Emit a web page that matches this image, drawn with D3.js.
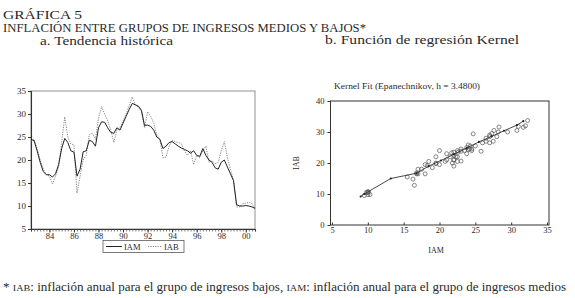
<!DOCTYPE html>
<html>
<head>
<meta charset="utf-8">
<script src="https://cdn.jsdelivr.net/npm/d3@7"></script>
<style>
  body { margin: 0; background: #fff; }
  svg { display: block; }
  text { font-family: "Liberation Serif", "DejaVu Serif", serif; fill: #2a2a2a; }
</style>
</head>
<body>
<svg id="chart" width="575" height="298"></svg>
<script>
// quarterly, 1982 Q3 .. 2000 Q4
const quarters = d3.range(74).map(i => 82.5 + i * 0.25);

const iam = [24.5, 24.2, 22.0, 19.5, 17.5, 16.8, 16.8, 16.3, 17.0, 19.0,
             22.5, 24.7, 23.8, 22.0, 21.7, 16.5, 18.0, 21.8, 22.0, 24.3,
             24.0, 23.0, 27.0, 28.3, 28.2, 27.0, 26.0, 25.8, 27.0, 26.5,
             28.0, 29.5, 31.0, 32.3, 32.0, 31.7, 30.8, 27.5, 27.6, 27.3,
             26.5, 25.0, 24.5, 22.5, 23.0, 23.8, 24.0, 23.5, 23.0, 22.6,
             22.3, 22.0, 21.5, 22.0, 21.0, 20.8, 22.5, 21.0, 20.0, 19.5,
             18.3, 18.0, 19.5, 20.0, 18.5, 17.0, 15.5, 10.3, 10.0, 10.0,
             10.1, 10.0, 9.8, 9.5];

const iab = [24.0, 24.5, 22.5, 20.0, 18.0, 16.8, 16.5, 14.8, 16.5, 18.5,
             24.0, 29.4, 25.0, 23.5, 23.3, 12.8, 16.5, 20.0, 21.0, 25.5,
             25.8, 24.5, 29.0, 31.6, 30.0, 28.5, 26.5, 23.8, 26.5, 27.0,
             28.5, 30.0, 31.8, 33.7, 32.0, 31.5, 30.5, 27.0, 30.5, 29.5,
             28.0, 25.5, 24.5, 20.5, 20.6, 23.0, 24.3, 24.0, 23.8, 23.5,
             22.0, 21.0, 22.0, 19.0, 21.0, 20.5, 22.0, 23.0, 19.5, 19.8,
             19.2, 19.5, 22.0, 24.0, 20.5, 18.0, 15.5, 9.8, 9.8, 10.5,
             10.6, 10.8, 10.5, 9.5];

// kernel fit (Epanechnikov, h = 3.48)
const kernelX = [9.0, 9.5, 13.2, 16.8, 18.5, 20.2, 22.0, 23.8, 25.5, 27.3, 29.0, 30.8, 31.7];
const kernelY = [9.2, 10.0, 15.0, 16.7, 19.0, 20.8, 22.8, 24.8, 26.8, 28.6, 30.4, 32.2, 33.5];

const yearTicks = [84, 86, 88, 90, 92, 94, 96, 98, 100];
const leftYTicks = [5, 10, 15, 20, 25, 30, 35];
const rightXTicks = [5, 10, 15, 20, 25, 30, 35];
const rightYTicks = [0, 10, 20, 30, 40];

const svg = d3.select("#chart");

// titles
svg.append("text").attr("x", 3).attr("y", 18.5).style("font-size", "11.5px")
   .attr("textLength", 79).attr("lengthAdjust", "spacingAndGlyphs").text("GRÁFICA 5");
svg.append("text").attr("x", 3).attr("y", 32).style("font-size", "12.2px")
   .attr("textLength", 363).attr("lengthAdjust", "spacingAndGlyphs")
   .text("INFLACIÓN ENTRE GRUPOS DE INGRESOS MEDIOS Y BAJOS*");
svg.append("text").attr("x", 40).attr("y", 44.5).style("font-size", "12px")
   .attr("textLength", 133).attr("lengthAdjust", "spacingAndGlyphs").text("a. Tendencia histórica");
svg.append("text").attr("x", 325).attr("y", 44).style("font-size", "12px")
   .attr("textLength", 194).attr("lengthAdjust", "spacingAndGlyphs").text("b. Función de regresión Kernel");

// ---- panel a: time series ----
const x1 = d3.scaleLinear().domain([82.5, 100.75]).range([31, 255]);
const y1 = d3.scaleLinear().domain([5, 35]).range([229, 91]);

const gA = svg.append("g");

gA.append("rect")
  .attr("x", x1.range()[0]).attr("y", y1(35))
  .attr("width", x1.range()[1] - x1.range()[0]).attr("height", y1(5) - y1(35))
  .attr("fill", "none").attr("stroke", "#777").attr("stroke-width", 0.8);

gA.append("g")
  .attr("transform", `translate(${x1.range()[0]},0)`)
  .call(d3.axisLeft(y1).tickValues(leftYTicks).tickSize(3).tickPadding(2))
  .call(g => g.select(".domain").attr("stroke", "#333").attr("stroke-width", 1.1))
  .call(g => g.selectAll(".tick line").attr("stroke", "#333"))
  .call(g => g.selectAll("text").style("font-size", "9px").attr("fill", "#2a2a2a"));

gA.append("g")
  .attr("transform", `translate(0,${y1(5)})`)
  .call(d3.axisBottom(x1).tickValues(quarters).tickSize(2.5).tickFormat(""))
  .call(g => g.select(".domain").attr("stroke", "#333").attr("stroke-width", 1.1))
  .call(g => g.selectAll(".tick line").attr("stroke", "#444").attr("stroke-width", 0.7));

gA.append("g")
  .attr("transform", `translate(0,${y1(5)})`)
  .call(d3.axisBottom(x1).tickValues(yearTicks).tickSize(3.5).tickPadding(0)
        .tickFormat(d => d3.format("02d")(d % 100)))
  .call(g => g.select(".domain").remove())
  .call(g => g.selectAll(".tick line").attr("stroke", "#333"))
  .call(g => g.selectAll("text").style("font-size", "8.5px").attr("fill", "#2a2a2a"));

const line1 = d3.line().x((d, i) => x1(quarters[i])).y(d => y1(d));

gA.append("path").datum(iab).attr("d", line1)
  .attr("fill", "none").attr("stroke", "#666").attr("stroke-width", 0.8)
  .attr("stroke-dasharray", "1.2,1.2");
gA.append("path").datum(iam).attr("d", line1)
  .attr("fill", "none").attr("stroke", "#222").attr("stroke-width", 1);

// legend
const lg = gA.append("g").attr("transform", "translate(103,240.5)");
lg.append("rect").attr("width", 81).attr("height", 12)
  .attr("fill", "#fff").attr("stroke", "#444").attr("stroke-width", 0.7);
lg.append("line").attr("x1", 3).attr("x2", 19).attr("y1", 6).attr("y2", 6)
  .attr("stroke", "#222").attr("stroke-width", 1);
lg.append("text").attr("x", 21).attr("y", 9.3).style("font-size", "8.5px").text("IAM");
lg.append("line").attr("x1", 45).attr("x2", 59).attr("y1", 6).attr("y2", 6)
  .attr("stroke", "#666").attr("stroke-width", 0.8).attr("stroke-dasharray", "1.2,1.2");
lg.append("text").attr("x", 61).attr("y", 9.3).style("font-size", "8.5px").text("IAB");

// ---- panel b: kernel regression ----
const x2 = d3.scaleLinear().domain([5, 35]).range([332, 547]);
const y2 = d3.scaleLinear().domain([0, 40]).range([225, 101]);

const gB = svg.append("g");

gB.append("text").attr("x", 334).attr("y", 89).style("font-size", "7.5px")
  .attr("textLength", 146).attr("lengthAdjust", "spacingAndGlyphs")
  .text("Kernel Fit (Epanechnikov, h = 3.4800)");

gB.append("rect")
  .attr("x", 330.5).attr("y", y2(40))
  .attr("width", 549 - 330.5).attr("height", y2(0) - y2(40))
  .attr("fill", "none").attr("stroke", "#333").attr("stroke-width", 1);

gB.append("g")
  .attr("transform", "translate(330.5,0)")
  .call(d3.axisLeft(y2).tickValues(rightYTicks).tickSize(3).tickPadding(3))
  .call(g => g.select(".domain").remove())
  .call(g => g.selectAll(".tick line").attr("stroke", "#333"))
  .call(g => g.selectAll("text").style("font-size", "8.5px").attr("fill", "#2a2a2a"));

gB.append("g")
  .attr("transform", `translate(0,${y2(0)})`)
  .call(d3.axisBottom(x2).tickValues(rightXTicks).tickSize(-2.5).tickPadding(1.5))
  .call(g => g.select(".domain").remove())
  .call(g => g.selectAll(".tick line").attr("stroke", "#333"))
  .call(g => g.selectAll("text").style("font-size", "8.5px").attr("fill", "#2a2a2a"));

gB.selectAll("circle.pt").data(iam.map((d, i) => [d, iab[i]])).join("circle")
  .attr("class", "pt")
  .attr("cx", d => x2(d[0])).attr("cy", d => y2(d[1])).attr("r", 2)
  .attr("fill", "none").attr("stroke", "#555").attr("stroke-width", 0.7);

const kpts = kernelX.map((d, i) => [d, kernelY[i]]);
gB.append("path").datum(kpts)
  .attr("d", d3.line().x(d => x2(d[0])).y(d => y2(d[1])))
  .attr("fill", "none").attr("stroke", "#333").attr("stroke-width", 0.9);
gB.selectAll("circle.k").data(kpts).join("circle")
  .attr("class", "k")
  .attr("cx", d => x2(d[0])).attr("cy", d => y2(d[1])).attr("r", 1.1)
  .attr("fill", "#222");

gB.append("text").attr("x", 436).attr("y", 253).attr("text-anchor", "middle")
  .style("font-size", "8px").text("IAM");
gB.append("text").attr("transform", "translate(299,163) rotate(-90)")
  .attr("text-anchor", "middle").style("font-size", "8px").text("IAB");

// footnote
const fn = svg.append("text").attr("x", 3).attr("y", 291).style("font-size", "11.5px")
  .attr("textLength", 563).attr("lengthAdjust", "spacingAndGlyphs");
fn.append("tspan").text("* ");
fn.append("tspan").style("font-size", "9px").text("IAB");
fn.append("tspan").text(": inflación anual para el grupo de ingresos bajos, ");
fn.append("tspan").style("font-size", "9px").text("IAM");
fn.append("tspan").text(": inflación anual para el grupo de ingresos medios");
</script>
</body>
</html>
